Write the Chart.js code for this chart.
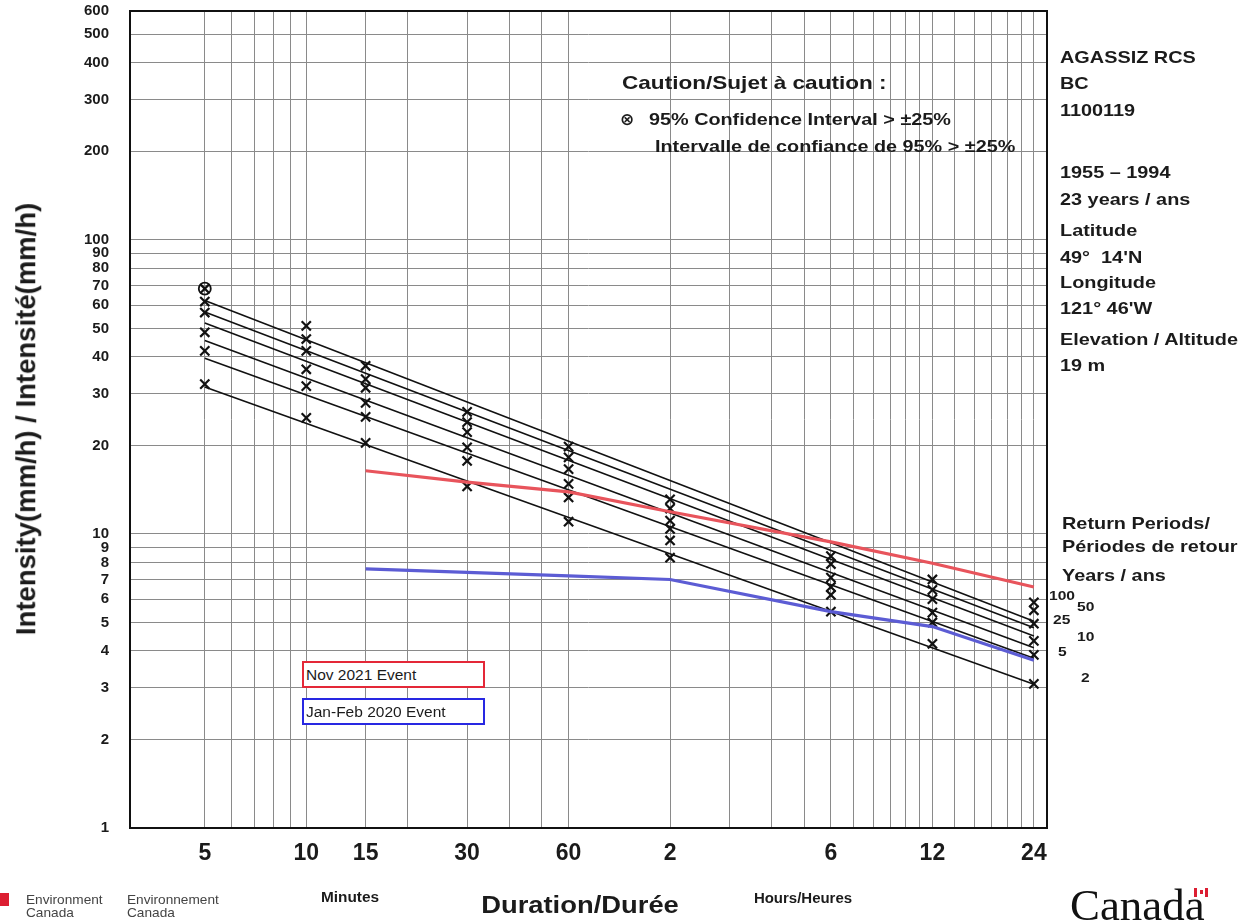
<!DOCTYPE html>
<html><head><meta charset="utf-8">
<script src="https://cdn.jsdelivr.net/npm/chart.js@4.4.1/dist/chart.umd.min.js"></script>
<style>
html,body{margin:0;padding:0;background:#fff;}
#wrap{position:relative;width:1256px;height:924px;overflow:hidden;background:#fff;}
canvas{position:absolute;left:0;top:0;}
.t{position:absolute;white-space:nowrap;line-height:1;color:#1b1b1b;font-family:'Liberation Sans',Arial,sans-serif;}
.box{position:absolute;background:#fff;box-sizing:border-box;}
</style></head>
<body><div id="wrap"><canvas id="c" width="1256" height="924"></canvas></div>
<script>
// ---------------- DATA ----------------
const durations = [5, 10, 15, 30, 60, 120, 360, 720, 1440]; // minutes
const returnPeriods = ['100', '50', '25', '10', '5', '2'];
// observed/computed intensities (mm/h) per return period
const rp100 = [68.2, 51.0, 37.3, 26.0, 19.8, 13.1, 8.4, 7.0, 5.85];
const rp50  = [61.7, 46.0, 33.6, 24.0, 18.2, 12.2, 7.9, 6.45, 5.5];
const rp25  = [56.6, 41.9, 31.4, 22.2, 16.6, 11.1, 7.1, 6.0, 4.95];
const rp10  = [48.5, 36.3, 27.9, 19.7, 14.8, 10.4, 6.6, 5.4, 4.33];
const rp5   = [41.9, 31.8, 25.0, 17.7, 13.3, 9.5, 6.2, 5.0, 3.88];
const rp2   = [32.3, 24.8, 20.4, 14.5, 11.0, 8.3, 5.44, 4.23, 3.09];
// fitted IDF lines: values at 5 min and at 24 h
const fitDurations = [5, 1440];
const fit100 = [62.2, 5.05];
const fit50  = [56.8, 4.80];
const fit25  = [52.1, 4.50];
const fit10  = [45.5, 4.10];
const fit5   = [39.6, 3.78];
const fit2   = [31.6, 3.08];
// flagged point (95% CI > ±25%)
const ciDurations = [5];
const ciValues = [68.2];
// events
const eventDurations = [15, 30, 60, 120, 360, 720, 1440];
const nov2021 = [16.4, 15.0, 13.9, 11.9, 9.4, 7.95, 6.6];
const janFeb2020 = [7.6, 7.4, 7.2, 7.0, 5.44, 4.84, 3.72];
// axes
const xGridValues = [5,6,7,8,9,10,15,20,30,40,50,60,120,180,240,300,360,420,480,540,600,660,720,840,960,1080,1200,1320,1440];
const xTickLabels = {5:'5', 10:'10', 15:'15', 30:'30', 60:'60', 120:'2', 360:'6', 720:'12', 1440:'24'};
const yGridValues = [1,2,3,4,5,6,7,8,9,10,20,30,40,50,60,70,80,90,100,200,300,400,500,600];

// ---------------- CHART ----------------
const FONT = "'Liberation Sans', Arial, sans-serif";
const pts = (xs, ys) => xs.map((x, i) => ({x, y: ys[i]}));
const markerSeries = [rp100, rp50, rp25, rp10, rp5, rp2];
const fitSeries = [fit100, fit50, fit25, fit10, fit5, fit2];

const datasets = [];
fitSeries.forEach((f, i) => datasets.push({
  type: 'line', label: 'fit ' + returnPeriods[i], data: pts(fitDurations, f),
  borderColor: '#111', borderWidth: 1.6, pointRadius: 0, fill: false, order: 3
}));
markerSeries.forEach((m, i) => datasets.push({
  type: 'scatter', label: returnPeriods[i] + ' yr', data: pts(durations, m),
  pointStyle: 'crossRot', pointRadius: 6.5, borderColor: '#111', borderWidth: 2.2,
  backgroundColor: '#111', showLine: false, order: 2
}));
datasets.push({
  type: 'scatter', label: 'CI', data: pts(ciDurations, ciValues),
  pointStyle: 'circle', pointRadius: 6, borderColor: '#111', borderWidth: 1.8,
  backgroundColor: 'rgba(0,0,0,0)', order: 1
});
datasets.push({
  type: 'line', label: 'Nov 2021 Event', data: pts(eventDurations, nov2021),
  borderColor: 'rgb(232,84,92)', borderWidth: 3.2, pointRadius: 0, fill: false, order: 0
});
datasets.push({
  type: 'line', label: 'Jan-Feb 2020 Event', data: pts(eventDurations, janFeb2020),
  borderColor: 'rgb(92,92,212)', borderWidth: 3.2, pointRadius: 0, fill: false, order: 0
});

const frame = {
  id: 'frame',
  beforeDatasetsDraw(chart) {
    const a = chart.chartArea, ctx = chart.ctx;
    ctx.save();
    ctx.strokeStyle = '#111';
    ctx.lineWidth = 2;
    ctx.strokeRect(a.left, a.top, a.right - a.left, a.bottom - a.top);
    ctx.restore();
  }
};

new Chart(document.getElementById('c'), {
  data: { datasets },
  plugins: [frame],
  options: {
    responsive: false, animation: false, devicePixelRatio: 1,
    layout: { padding: { left: 0, right: 209, top: 11, bottom: 0 } },
    plugins: { legend: { display: false }, tooltip: { enabled: false } },
    scales: {
      x: {
        type: 'logarithmic', min: 3, max: 1575,
        afterBuildTicks: s => { s.ticks = xGridValues.map(v => ({ value: v })); },
        afterFit: s => { s.height = 96; s.paddingLeft = 0; s.paddingRight = 0; s.paddingTop = 0; s.paddingBottom = 0; },
        ticks: {
          autoSkip: false, maxRotation: 0, minRotation: 0, padding: 12,
          color: '#1b1b1b', font: { family: FONT, size: 23, weight: 'bold' },
          callback: v => xTickLabels[v] || ''
        },
        grid: { color: '#8a8a8a', lineWidth: 1, drawTicks: false },
        border: { display: false }
      },
      y: {
        type: 'logarithmic', min: 1, max: 600,
        afterBuildTicks: s => { s.ticks = yGridValues.map(v => ({ value: v })); },
        afterFit: s => { s.width = 130; s.paddingTop = 0; s.paddingBottom = 0; s.paddingLeft = 0; s.paddingRight = 0; },
        ticks: {
          autoSkip: false, padding: 21,
          color: '#1b1b1b', font: { family: FONT, size: 15, weight: 'bold' },
          callback: v => String(v)
        },
        grid: { color: '#8a8a8a', lineWidth: 1, drawTicks: false },
        border: { display: false }
      }
    }
  }
});

// ---------------- TEXT ANNOTATIONS ----------------
const wrap = document.getElementById('wrap');
function addText(str, x, cy, size, weight, sx, align, extra) {
  const d = document.createElement('div');
  d.className = 't';
  d.textContent = str;
  d.style.fontSize = size + 'px';
  d.style.fontWeight = weight;
  d.style.top = (cy - 0.49 * size) + 'px';
  const k = sx || 1;
  d.style.left = x + 'px';
  d.style.transformOrigin = '0 0';
  d.style.transform = align === 'center' ? 'scaleX(' + k + ') translateX(-50%)' : 'scaleX(' + k + ')';
  if (extra) Object.assign(d.style, extra);
  wrap.appendChild(d);
  return d;
}
const B = 700, R = 400;
// station info
[['AGASSIZ RCS', 57.3], ['BC', 83.3], ['1100119', 110], ['1955 – 1994', 172.3],
 ['23 years / ans', 198.5], ['Latitude', 230], ['49°  14\'N', 256.7], ['Longitude', 281.7],
 ['121° 46\'W', 308.3], ['Elevation / Altitude', 339], ['19 m', 365]]
 .forEach(([s, y]) => addText(s, 1060, y, 16.3, B, 1.22, null, { whiteSpace: 'pre' }));
// caution
addText('Caution/Sujet à caution :', 622, 82.7, 18.5, B, 1.22);
addText('⊗', 620, 119.8, 17, B, 1, null, { fontFamily: "'DejaVu Sans', sans-serif" });
addText('95% Confidence Interval > ±25%', 649, 119.3, 16.5, B, 1.2);
addText('Intervalle de confiance de 95% > ±25%', 655, 145.7, 16.5, B, 1.2);
// return periods block
addText('Return Periods/', 1062, 523, 16.3, B, 1.22);
addText('Périodes de retour', 1062, 546, 16.3, B, 1.22);
addText('Years / ans', 1062, 575, 16.3, B, 1.22);
[['100', 1049, 595], ['50', 1077, 606.7], ['25', 1053, 619.3], ['10', 1077, 636], ['5', 1058, 651.7], ['2', 1081, 677.3]]
 .forEach(([s, x, y]) => addText(s, x, y, 13, B, 1.2));
// axis titles
addText('Minutes', 350, 897, 14, B, 1.1, 'center');
addText('Hours/Heures', 803, 898, 14, B, 1.07, 'center');
addText('Duration/Durée', 580, 905, 23, B, 1.19, 'center');
const yt = document.createElement('div');
yt.className = 't';
yt.textContent = 'Intensity(mm/h) / Intensité(mm/h)';
Object.assign(yt.style, { fontSize: '27.5px', fontWeight: B, left: '25.5px', top: '418.5px',
  transform: 'translate(-50%,-50%) rotate(-90deg)', transformOrigin: '50% 50%' });
wrap.appendChild(yt);
// footer
addText('Environment', 26, 899, 13, R, 1.05, null, { color: '#444' });
addText('Canada', 26, 912, 13, R, 1.05, null, { color: '#444' });
addText('Environnement', 127, 899, 13, R, 1.05, null, { color: '#444' });
addText('Canada', 127, 912, 13, R, 1.05, null, { color: '#444' });
addText('Canada', 1070, 906, 44, R, 1.02, null, { fontFamily: "'Liberation Serif', 'Times New Roman', serif", color: '#111' });
// legend boxes
function addBox(x, y, w, h, color, label) {
  const b = document.createElement('div');
  b.className = 'box';
  Object.assign(b.style, { left: x + 'px', top: y + 'px', width: w + 'px', height: h + 'px', border: '2px solid ' + color });
  wrap.appendChild(b);
  addText(label, x + 4, y + h / 2, 15.5, R, 1);
}
addBox(302, 661, 183, 27, 'rgb(228,40,56)', 'Nov 2021 Event');
addBox(302, 698, 183, 27, 'rgb(40,40,226)', 'Jan-Feb 2020 Event');
// decorative marks (FIP flags)
function rect(x, y, w, h, c) {
  const r = document.createElement('div');
  Object.assign(r.style, { position: 'absolute', left: x + 'px', top: y + 'px', width: w + 'px', height: h + 'px', background: c });
  wrap.appendChild(r);
}
rect(0, 893, 9, 13, 'rgb(220,30,50)');
rect(1194, 888, 3, 9, 'rgb(220,30,50)');
rect(1205, 888, 3, 9, 'rgb(220,30,50)');
rect(1199.5, 890, 3, 4, 'rgb(220,30,50)');
</script>
</body></html>
